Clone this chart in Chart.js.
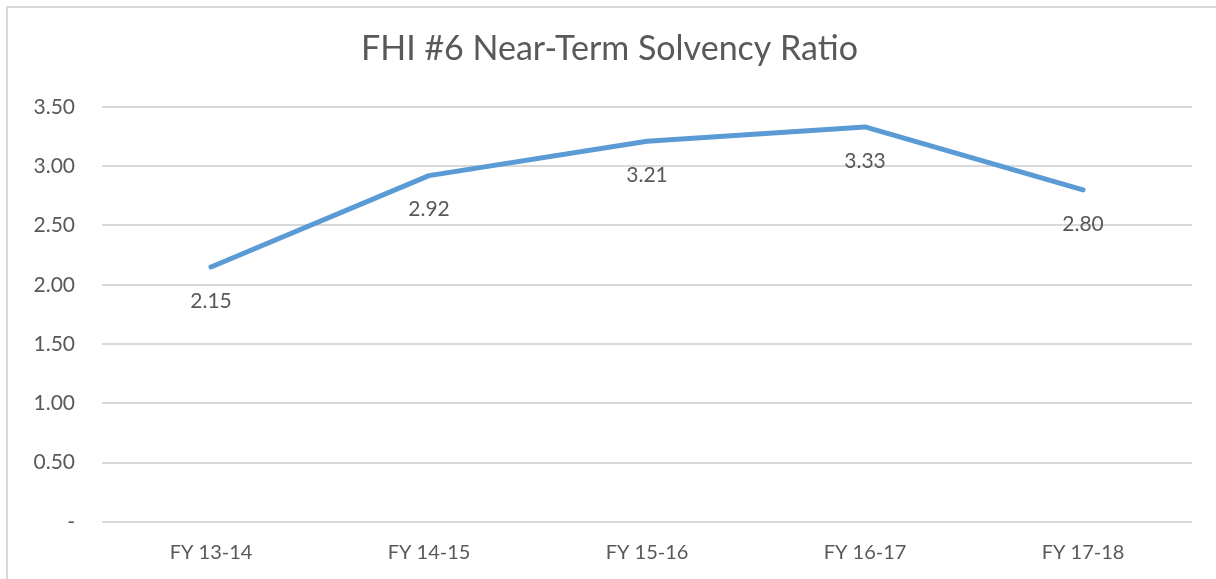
<!DOCTYPE html>
<html>
<head>
<meta charset="utf-8">
<script src="https://cdn.jsdelivr.net/npm/chart.js@4"></script>
<style>
  html, body { margin: 0; padding: 0; background: #fff; overflow: hidden; }
  #frame { position: absolute; left: 6px; top: 6px; width: 1240px; height: 620px; border: 2px solid #d9d9d9; box-sizing: border-box; }
  #wrap { position: absolute; left: 0; top: 0; width: 1216px; height: 579px; }
</style>
</head>
<body>
<div id="frame"></div>
<div id="wrap"><canvas id="c" width="1216" height="579"></canvas></div>
<script>
const chartTitle = 'FHI #6 Near-Term Solvency Ratio';
const categories = ['FY 13-14', 'FY 14-15', 'FY 15-16', 'FY 16-17', 'FY 17-18'];
const ratioValues = [2.15, 2.92, 3.21, 3.33, 2.80];
const yMin = 0, yMax = 3.5, yStep = 0.5;

const FONT = 'Lato, "Open Sans", sans-serif';
const TEXT = '#595959';

const labelPlugin = {
  id: 'pointLabels',
  afterDatasetsDraw(chart) {
    const ctx = chart.ctx;
    const meta = chart.getDatasetMeta(0);
    ctx.save();
    ctx.font = '21px ' + FONT;
    ctx.fillStyle = TEXT;
    ctx.textAlign = 'center';
    ctx.textBaseline = 'middle';
    meta.data.forEach((pt, i) => {
      ctx.fillText(ratioValues[i].toFixed(2), pt.x, pt.y + 34);
    });
    ctx.restore();
  }
};

new Chart(document.getElementById('c'), {
  type: 'line',
  data: {
    labels: categories,
    datasets: [{
      data: ratioValues,
      borderColor: '#5B9BD5',
      borderWidth: 5,
      borderCapStyle: 'round',
      borderJoinStyle: 'round',
      pointRadius: 0,
      tension: 0,
      fill: false
    }]
  },
  options: {
    responsive: false,
    animation: false,
    devicePixelRatio: 1,
    layout: { padding: { left: 27, right: 24, top: 0, bottom: 0 } },
    plugins: {
      legend: { display: false },
      tooltip: { enabled: false },
      title: {
        display: true,
        text: chartTitle,
        color: TEXT,
        font: { family: FONT, size: 34, weight: 'normal' },
        padding: { top: 29, bottom: 37 }
      }
    },
    scales: {
      x: {
        offset: true,
        grid: { display: false, drawTicks: false },
        border: { display: false },
        ticks: { color: TEXT, font: { family: FONT, size: 20 }, padding: 19, maxRotation: 0 },
        afterFit(s) { s.height = 57; }
      },
      y: {
        min: yMin,
        max: yMax,
        grid: { color: '#d9d9d9', lineWidth: 2, drawTicks: false },
        border: { display: false },
        ticks: {
          stepSize: yStep,
          color: TEXT,
          font: { family: FONT, size: 21 },
          padding: 27,
          callback: (v) => v === 0 ? '-' : Number(v).toFixed(2)
        },
        afterFit(s) { s.width = 75; }
      }
    }
  },
  plugins: [labelPlugin]
});
</script>
</body>
</html>
